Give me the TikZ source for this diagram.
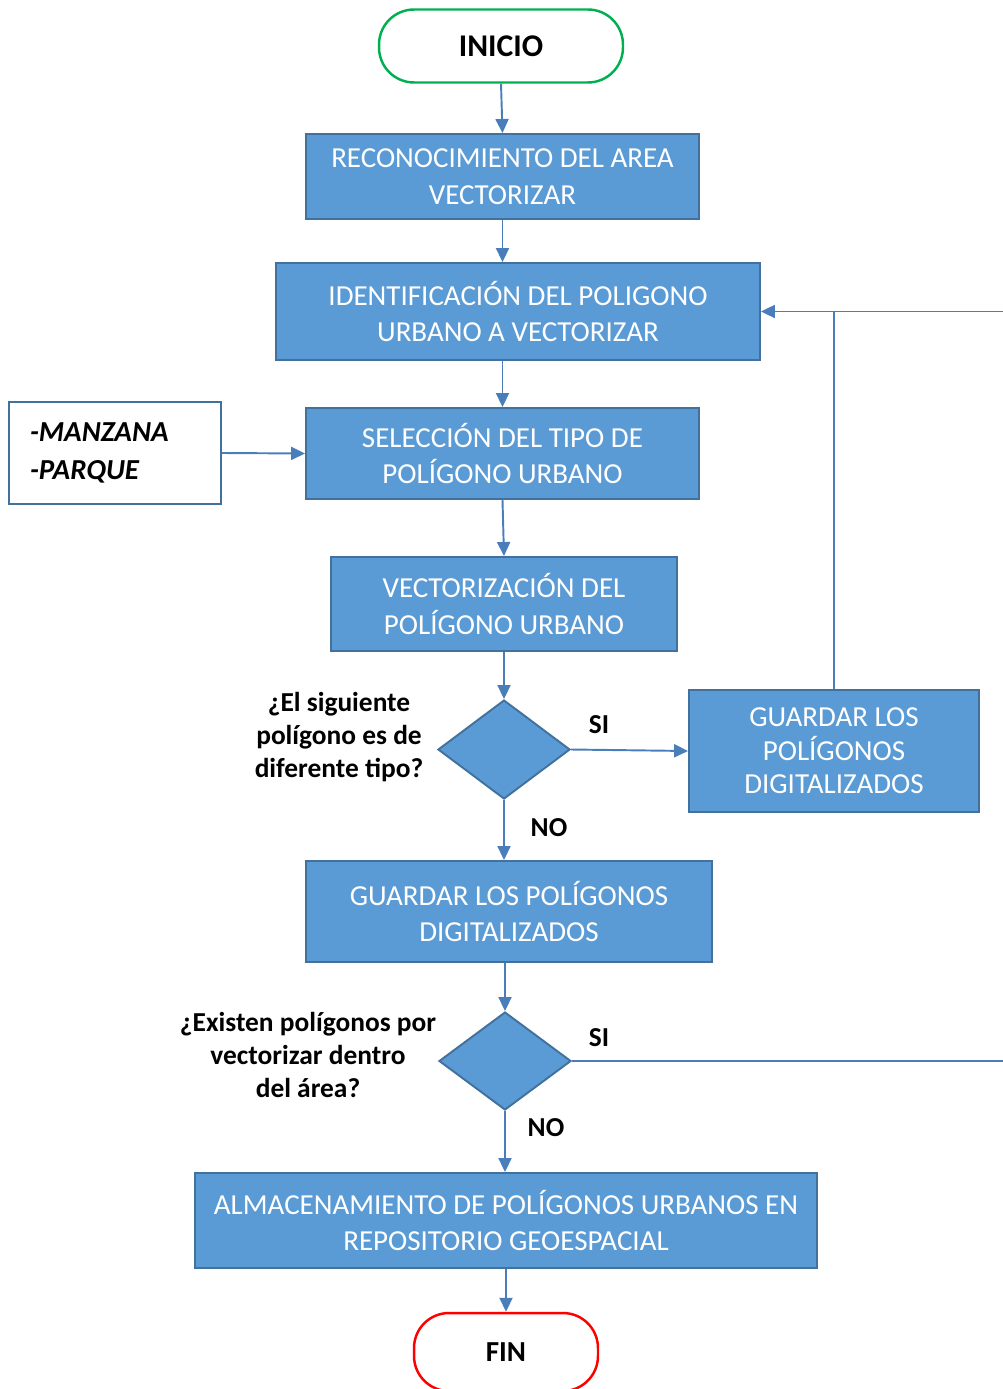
\documentclass[tikz,border=0pt]{standalone}
\usepackage{fontspec}
\setmainfont{Carlito}
\usepackage{tikz}
\usetikzlibrary{shapes.geometric,positioning,calc}
\usetikzlibrary{arrows.meta}
\definecolor{azul}{HTML}{5B9BD5}
\definecolor{bordeazul}{HTML}{41719C}
\definecolor{lineaazul}{HTML}{4A7EBB}
\definecolor{verde}{HTML}{00B050}
\tikzstyle{arrow} = [line width=1.1pt,draw=lineaazul,-{Triangle[length=0.28cm,width=0.26cm]}]
\tikzstyle{conector} = [line width=1.1pt,draw=lineaazul]
\tikzstyle{proceso} = [rectangle,draw=bordeazul,fill=azul,line width=1.1pt,text=white,align=center,font=\fontsize{16.5}{21}\selectfont]
\tikzstyle{decision} = [diamond,draw=bordeazul,fill=azul,line width=1.1pt,inner sep=0pt,aspect=1.33]
\tikzstyle{terminal} = [rectangle,rounded corners=0.7cm,line width=1.4pt,fill=white,font=\fontsize{16.5}{20}\selectfont\bfseries]
\tikzstyle{etiqueta} = [align=center,font=\fontsize{15.6}{18.7}\selectfont\bfseries]

\begin{document}
\begin{tikzpicture}[x=0.02cm,y=-0.02cm]
	\useasboundingbox (0,0) rectangle (1003,1389);
	\clip (0,0) rectangle (1003,1389);
	\node[terminal,draw=verde,minimum width=4.88cm,minimum height=1.46cm,font=\fontsize{18}{20}\selectfont\bfseries] (inicio) at (501,46) {INICIO};
	\node[proceso,minimum width=7.86cm,minimum height=1.7cm] (reco) at (502.5,176.5) {RECONOCIMIENTO DEL AREA\\VECTORIZAR};
	\node[proceso,minimum width=9.68cm,minimum height=1.94cm] (ident) at (518,311.5) {IDENTIFICACIÓN DEL POLIGONO\\URBANO A VECTORIZAR};
	\node[proceso,minimum width=7.86cm,minimum height=1.82cm] (selec) at (502.5,453.5) {SELECCIÓN DEL TIPO DE\\POLÍGONO URBANO};
	\node[rectangle,draw=bordeazul,line width=1.1pt,fill=white,minimum height=2.04cm,inner xsep=0.42cm,text width=3.4cm,align=left,font=\fontsize{16.5}{21.5}\selectfont\bfseries\itshape] (tipos) at (115,453) {-MANZANA\\-PARQUE};
	\node[proceso,minimum width=6.92cm,minimum height=1.88cm] (vector) at (504,604) {VECTORIZACIÓN DEL\\POLÍGONO URBANO};
	\node[decision,minimum width=2.64cm,minimum height=1.98cm] (d1) at (504,749.5) {};
	\node[proceso,minimum width=5.8cm,minimum height=2.44cm,font=\fontsize{16.5}{19}\selectfont] (guardar1) at (834,751) {GUARDAR LOS\\POLÍGONOS\\DIGITALIZADOS};
	\node[proceso,minimum width=8.12cm,minimum height=2.02cm] (guardar2) at (509,911.5) {GUARDAR LOS POLÍGONOS\\DIGITALIZADOS};
	\node[decision,minimum width=2.64cm,minimum height=1.96cm] (d2) at (505,1061) {};
	\node[proceso,minimum width=12.44cm,minimum height=1.9cm] (almac) at (506,1220.5) {ALMACENAMIENTO DE POLÍGONOS URBANOS EN\\REPOSITORIO GEOESPACIAL};
	\node[terminal,draw=red,minimum width=3.68cm,minimum height=1.56cm] (fin) at (506,1352) {FIN};
	\node[etiqueta] (preg1) at (339,737) {¿El siguiente\\polígono es de\\diferente tipo?};
	\node[etiqueta] (preg2) at (308,1055) {¿Existen polígonos por\\vectorizar dentro\\del área?};
	\node[etiqueta] (si1) at (599,725) {SI};
	\node[etiqueta] (no1) at (549,828) {NO};
	\node[etiqueta] (si2) at (599,1038) {SI};
	\node[etiqueta] (no2) at (546,1128) {NO};
	\coordinate (margen) at (1010,0);
	\draw[arrow] (inicio.south) -- (reco.north);
	\draw[arrow] (reco.south) -- (reco.south |- ident.north);
	\draw[arrow] (selec.north |- ident.south) -- (selec.north);
	\draw[arrow] (tipos.east) -- (selec.west);
	\draw[arrow] (selec.south) -- (vector.north);
	\draw[arrow] (vector.south) -- (d1.north);
	\draw[arrow] (d1.east) -- (guardar1.west);
	\draw[arrow] (d1.south) -- (d1.south |- guardar2.north);
	\draw[arrow] (guardar1.north) |- (ident.east);
	\draw[conector] (margen |- ident.east) -- (guardar1.north |- ident.east);
	\draw[arrow] (d2.north |- guardar2.south) -- (d2.north);
	\draw[conector] (d2.east) -- (margen |- d2.east);
	\draw[arrow] (d2.south) -- (d2.south |- almac.north);
	\draw[arrow] (almac.south) -- (fin.north);
\end{tikzpicture}
\end{document}
